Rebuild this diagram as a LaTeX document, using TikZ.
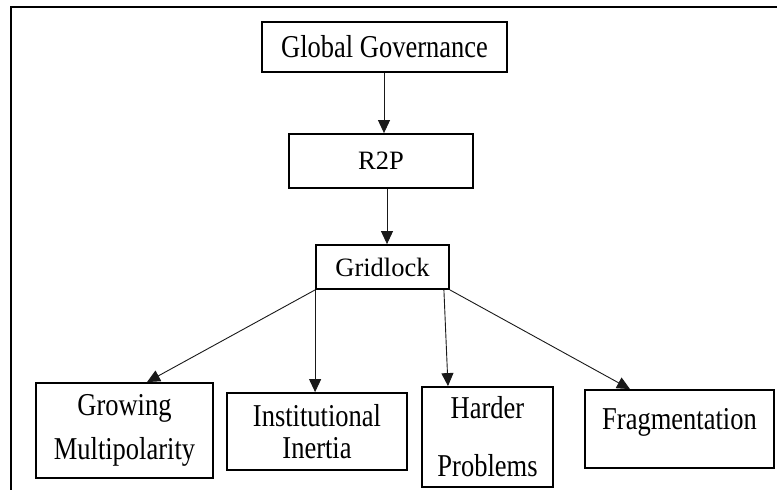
\documentclass[tikz,border=0pt]{standalone}
\usepackage{fontspec}
\setmainfont{Liberation Serif}
\usetikzlibrary{arrows.meta}
\newcommand{\tallt}[1]{\scalebox{1}[1.2]{#1}}
\begin{document}
\begin{tikzpicture}[x=1pt,y=-1pt,
  box/.style={draw=black, line width=1.8pt, rectangle, inner sep=0pt, align=center,
    font=\fontsize{26.5}{31}\selectfont},
  conn/.style={draw=black!90, line width=0.9pt, -{Triangle[length=13pt,width=12pt]}},
  frame/.style={draw=black, line width=2pt}]
\useasboundingbox (0,0) rectangle (777,490);
% partial outer frame
\coordinate (ftl) at (11,7);
\coordinate (ftr) at (777,7);
\coordinate (fbl) at (11,490);
\draw[frame] (fbl) -- (ftl) -- (ftr);
% boxes
\node[box, minimum width=245pt, minimum height=50pt] (gg) at (384.5,47) {\tallt{Global Governance}};
\node[box, minimum width=184pt, minimum height=54pt] (r2p) at (381,161) {R2P};
\node[box, minimum width=133pt, minimum height=44pt] (gl) at (382.5,267) {Gridlock};
\node[box, minimum width=177pt, minimum height=95pt, font=\fontsize{26.5}{44}\selectfont] (grow) at (124.5,430.5)
  {\tallt{Growing}\\\tallt{Multipolarity}};
\node[box, minimum width=180pt, minimum height=77pt, font=\fontsize{26.5}{32}\selectfont] (inst) at (317,431.5)
  {\tallt{Institutional}\\\tallt{Inertia}};
\node[box, minimum width=131pt, minimum height=100pt, font=\fontsize{26.5}{58}\selectfont] (hard) at (487.5,437)
  {\tallt{Harder}\\\tallt{Problems}};
\node[box, minimum width=189pt, minimum height=78pt] (frag) at (679.5,429) {};
\node[font=\fontsize{26.5}{31}\selectfont, inner sep=0pt] (fragt) at (679.5,422) {\tallt{Fragmentation}};
% connectors
\draw[conn] ([xshift=-0.5pt]gg.south) -- ([xshift=-0.5pt]gg.south |- r2p.north);
\draw[conn] ([xshift=6pt]r2p.south) -- ([xshift=6pt]r2p.south |- gl.north);
\draw[conn] (gl.south west) -- ([xshift=22.5pt]grow.north);
\draw[conn] (gl.south west) -- (gl.south west |- inst.north);
\draw[conn] ([xshift=-6pt]gl.south east) -- ([xshift=-39.5pt]hard.north);
\draw[conn] (gl.south east) -- ([xshift=-49.5pt]frag.north);
\end{tikzpicture}
\end{document}
